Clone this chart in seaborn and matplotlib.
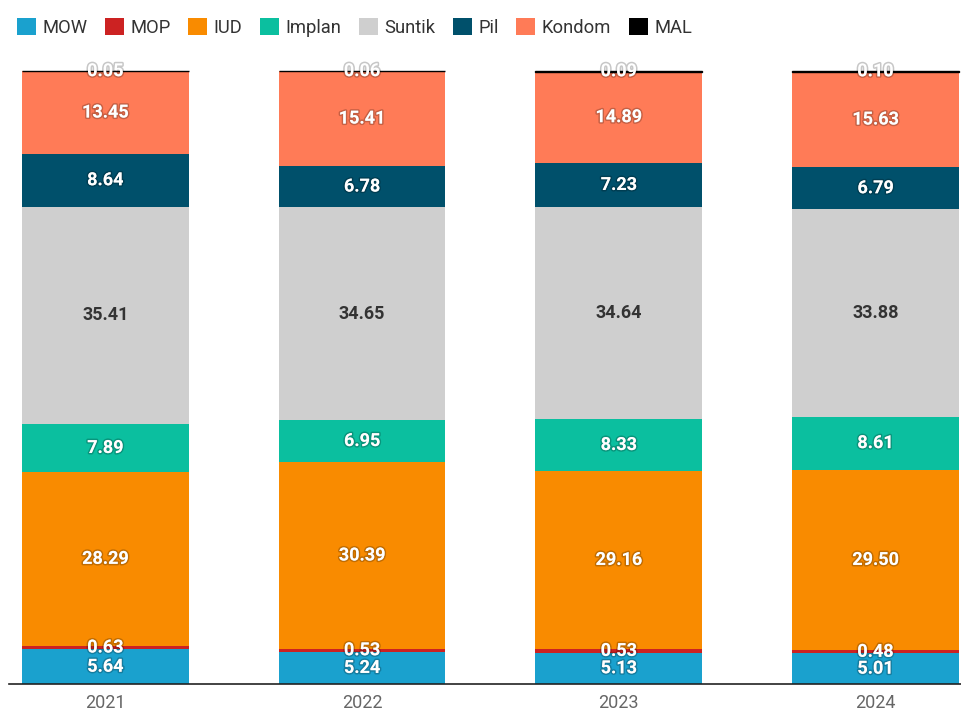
import numpy as np
import pandas as pd
import matplotlib.pyplot as plt
import matplotlib.patheffects as pe
from matplotlib.patches import Patch
import seaborn as sns

sns.set_style('white')
plt.rcParams['font.family'] = ['Roboto', 'DejaVu Sans']

# data
years = ['2021', '2022', '2023', '2024']
methods = ['MOW', 'MOP', 'IUD', 'Implan', 'Suntik', 'Pil', 'Kondom', 'MAL']
mow = [5.64, 5.24, 5.13, 5.01]
mop = [0.63, 0.53, 0.53, 0.48]
iud = [28.29, 30.39, 29.16, 29.50]
implan = [7.89, 6.95, 8.33, 8.61]
suntik = [35.41, 34.65, 34.64, 33.88]
pil = [8.64, 6.78, 7.23, 6.79]
kondom = [13.45, 15.41, 14.89, 15.63]
mal = [0.05, 0.06, 0.09, 0.10]

colors = ['#1aa1ce', '#cc2222', '#f98b00', '#0bbf9f', '#cfcfcf', '#00506b', '#ff7b57', '#000000']

df = pd.DataFrame({'MOW': mow, 'MOP': mop, 'IUD': iud, 'Implan': implan,
                   'Suntik': suntik, 'Pil': pil, 'Kondom': kondom, 'MAL': mal},
                  index=years)
cum = df.cumsum(axis=1)
base = cum - df

fig = plt.figure(figsize=(9.62, 7.12), dpi=100)
ax = fig.add_axes([9 / 962, 28 / 712, 953 / 962, 613 / 712])

# stacked bars
for m, c in zip(methods, colors):
    sub = pd.DataFrame({'year': years, 'val': df[m].values})
    lw = 1.0 if m == 'MAL' else 0
    sns.barplot(data=sub, x='year', y='val', color=c, saturation=1,
                width=0.65, linewidth=lw, edgecolor=c, bottom=base[m].values,
                ax=ax)
for p in ax.patches:
    p.set_clip_on(False)

# segment labels
shadow = [pe.withStroke(linewidth=2.2, foreground=(0, 0, 0, 0.22))]
for i, y in enumerate(years):
    for m in methods:
        v = df.loc[y, m]
        mid = cum.loc[y, m] - v / 2
        if m == 'Suntik':
            ax.text(i, mid, f'{v:.2f}', ha='center', va='center', color='#333333',
                    fontsize=13, fontweight='bold', zorder=5)
        else:
            ax.text(i, mid, f'{v:.2f}', ha='center', va='center', color='white',
                    fontsize=13, fontweight='bold', path_effects=shadow, zorder=5)

ax.set_ylim(0, 100)
ax.set_xlim(-0.375, 3.337)
ax.set_xlabel('')
ax.set_ylabel('')
ax.set_yticks([])
ax.tick_params(axis='x', length=0, pad=7, labelsize=13, labelcolor='#666666')
for s in ['top', 'right', 'left']:
    ax.spines[s].set_visible(False)
ax.spines['bottom'].set_color('#222222')
ax.spines['bottom'].set_linewidth(1.2)
ax.spines['bottom'].set_zorder(6)

handles = [Patch(facecolor=c, edgecolor='none', label=m) for m, c in zip(methods, colors)]
fig.legend(handles=handles, loc='upper left', bbox_to_anchor=(0.0, 0.998), ncol=8,
           frameon=False, fontsize=13.2, handlelength=1.05, handleheight=1.05,
           handletextpad=0.35, columnspacing=0.95, labelcolor='#333333')

plt.savefig('out.png', dpi=100)
plt.close()
